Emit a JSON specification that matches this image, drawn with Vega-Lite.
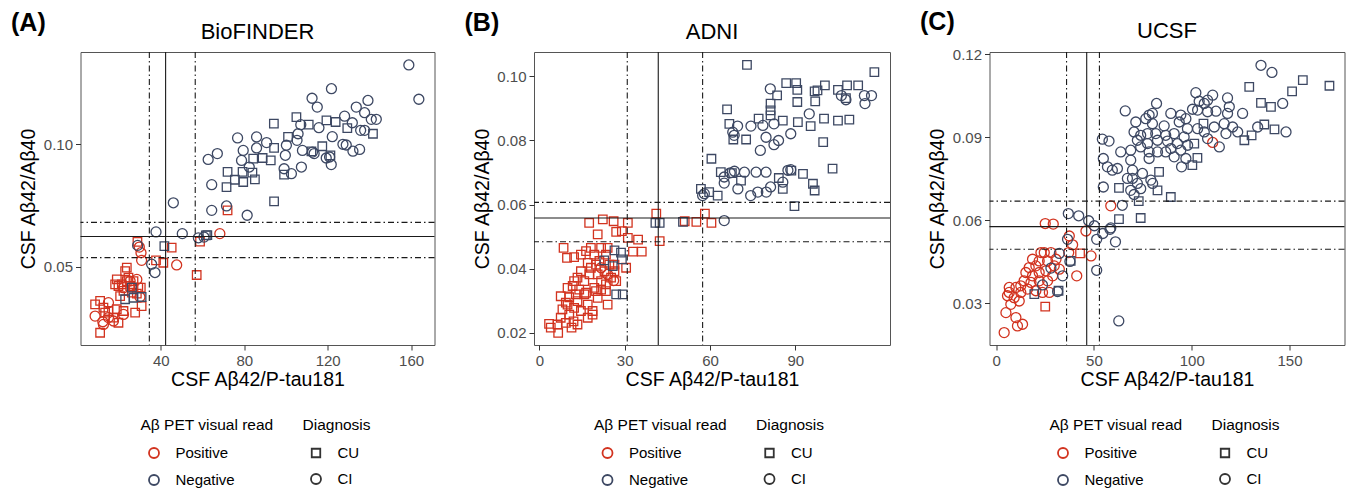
{
"$schema": "https://vega.github.io/schema/vega-lite/v6.json",
"padding": {"left": 10.5, "top": 9, "right": 2, "bottom": 2},
"background": "white",
"config": {
 "font": "Liberation Sans",
 "view": {"stroke": "#555555", "strokeWidth": 1},
 "axis": {"grid": false, "domain": false, "tickColor": "#333333", "tickSize": 5, "tickWidth": 1, "labelFontSize": 15, "labelColor": "#4d4d4d", "labelPadding": 3, "titleFontSize": 19.5, "titleFontWeight": "normal", "titleColor": "#000000"},
 "axisY": {"minExtent": 37, "maxExtent": 37, "titlePadding": 5},
 "axisX": {"titlePadding": 2},
 "title": {"fontSize": 22, "fontWeight": "normal", "offset": 7.3, "color": "#000000"},
 "legend": {"orient": "none", "padding": 0, "titleFontSize": 15.5, "titleFontWeight": "normal", "titleColor": "#000000", "labelFontSize": 15, "labelColor": "#000000", "titlePadding": 12, "rowPadding": 8, "symbolSize": 100, "symbolStrokeWidth": 1.8, "symbolOffset": 6, "labelOffset": 14}
},
"datasets": {
 "bio": [
  {"x":72.0,"y":0.0730,"pet":"Positive","diag":"CU"},{"x":58.8,"y":0.0602,"pet":"Positive","diag":"CU"},{"x":28.8,"y":0.0601,"pet":"Positive","diag":"CU"},{"x":45.2,"y":0.0578,"pet":"Positive","diag":"CU"},{"x":41.2,"y":0.0516,"pet":"Positive","diag":"CU"},{"x":37.7,"y":0.0526,"pet":"Positive","diag":"CU"},{"x":57.2,"y":0.0466,"pet":"Positive","diag":"CU"},{"x":23.7,"y":0.0496,"pet":"Positive","diag":"CU"},{"x":22.9,"y":0.0482,"pet":"Positive","diag":"CU"},{"x":24.5,"y":0.0455,"pet":"Positive","diag":"CU"},{"x":18.9,"y":0.0448,"pet":"Positive","diag":"CU"},{"x":19.7,"y":0.0421,"pet":"Positive","diag":"CU"},{"x":21.3,"y":0.0428,"pet":"Positive","diag":"CU"},{"x":25.3,"y":0.0421,"pet":"Positive","diag":"CU"},{"x":26.9,"y":0.0414,"pet":"Positive","diag":"CU"},{"x":29.2,"y":0.0414,"pet":"Positive","diag":"CU"},{"x":22.1,"y":0.0401,"pet":"Positive","diag":"CU"},{"x":26.1,"y":0.0394,"pet":"Positive","diag":"CU"},{"x":28.5,"y":0.0390,"pet":"Positive","diag":"CU"},{"x":30.4,"y":0.0414,"pet":"Positive","diag":"CU"},{"x":20.5,"y":0.0380,"pet":"Positive","diag":"CU"},{"x":18.1,"y":0.0428,"pet":"Positive","diag":"CU"},{"x":23.7,"y":0.0441,"pet":"Positive","diag":"CU"},{"x":26.9,"y":0.0441,"pet":"Positive","diag":"CU"},{"x":8.5,"y":0.0346,"pet":"Positive","diag":"CU"},{"x":10.9,"y":0.0360,"pet":"Positive","diag":"CU"},{"x":12.5,"y":0.0333,"pet":"Positive","diag":"CU"},{"x":14.9,"y":0.0319,"pet":"Positive","diag":"CU"},{"x":17.3,"y":0.0292,"pet":"Positive","diag":"CU"},{"x":19.7,"y":0.0271,"pet":"Positive","diag":"CU"},{"x":22.1,"y":0.0319,"pet":"Positive","diag":"CU"},{"x":27.7,"y":0.0312,"pet":"Positive","diag":"CU"},{"x":30.8,"y":0.0339,"pet":"Positive","diag":"CU"},{"x":10.9,"y":0.0230,"pet":"Positive","diag":"CU"},{"x":18.9,"y":0.0326,"pet":"Positive","diag":"CU"},{"x":13.3,"y":0.0312,"pet":"Positive","diag":"CU"},
  {"x":68.3,"y":0.0635,"pet":"Positive","diag":"CI"},{"x":29.7,"y":0.0580,"pet":"Positive","diag":"CI"},{"x":30.5,"y":0.0557,"pet":"Positive","diag":"CI"},{"x":30.8,"y":0.0526,"pet":"Positive","diag":"CI"},{"x":47.6,"y":0.0507,"pet":"Positive","diag":"CI"},{"x":30.0,"y":0.0376,"pet":"Positive","diag":"CI"},{"x":25.3,"y":0.0441,"pet":"Positive","diag":"CI"},{"x":28.5,"y":0.0448,"pet":"Positive","diag":"CI"},{"x":22.1,"y":0.0414,"pet":"Positive","diag":"CI"},{"x":8.5,"y":0.0298,"pet":"Positive","diag":"CI"},{"x":14.9,"y":0.0353,"pet":"Positive","diag":"CI"},{"x":12.5,"y":0.0264,"pet":"Positive","diag":"CI"},{"x":17.3,"y":0.0278,"pet":"Positive","diag":"CI"},{"x":22.1,"y":0.0305,"pet":"Positive","diag":"CI"},{"x":12.2,"y":0.0275,"pet":"Positive","diag":"CI"},{"x":14.9,"y":0.0292,"pet":"Positive","diag":"CI"},
  {"x":105.0,"y":0.1111,"pet":"Negative","diag":"CU"},{"x":94.2,"y":0.1084,"pet":"Negative","diag":"CU"},{"x":110.9,"y":0.1080,"pet":"Negative","diag":"CU"},{"x":119.4,"y":0.1098,"pet":"Negative","diag":"CU"},{"x":123.8,"y":0.1091,"pet":"Negative","diag":"CU"},{"x":129.4,"y":0.1066,"pet":"Negative","diag":"CU"},{"x":141.7,"y":0.1043,"pet":"Negative","diag":"CU"},{"x":101.0,"y":0.1030,"pet":"Negative","diag":"CU"},{"x":94.3,"y":0.0985,"pet":"Negative","diag":"CU"},{"x":117.4,"y":0.0992,"pet":"Negative","diag":"CU"},{"x":121.3,"y":0.0955,"pet":"Negative","diag":"CU"},{"x":112.2,"y":0.0971,"pet":"Negative","diag":"CU"},{"x":84.3,"y":0.0941,"pet":"Negative","diag":"CU"},{"x":88.8,"y":0.0944,"pet":"Negative","diag":"CU"},{"x":92.7,"y":0.0934,"pet":"Negative","diag":"CU"},{"x":72.0,"y":0.0887,"pet":"Negative","diag":"CU"},{"x":75.5,"y":0.0855,"pet":"Negative","diag":"CU"},{"x":79.2,"y":0.0887,"pet":"Negative","diag":"CU"},{"x":83.9,"y":0.0884,"pet":"Negative","diag":"CU"},{"x":85.1,"y":0.0857,"pet":"Negative","diag":"CU"},{"x":71.5,"y":0.0825,"pet":"Negative","diag":"CU"},{"x":79.5,"y":0.0846,"pet":"Negative","diag":"CU"},{"x":99.1,"y":0.0876,"pet":"Negative","diag":"CU"},{"x":94.3,"y":0.0767,"pet":"Negative","diag":"CU"},{"x":62.3,"y":0.0629,"pet":"Negative","diag":"CU"},{"x":61.6,"y":0.0628,"pet":"Negative","diag":"CU"},{"x":41.7,"y":0.0584,"pet":"Negative","diag":"CU"},{"x":26.1,"y":0.0414,"pet":"Negative","diag":"CU"},{"x":30.8,"y":0.0376,"pet":"Negative","diag":"CU"},{"x":22.9,"y":0.0367,"pet":"Negative","diag":"CU"},{"x":26.9,"y":0.0373,"pet":"Negative","diag":"CU"},
  {"x":158.9,"y":0.1324,"pet":"Negative","diag":"CI"},{"x":163.7,"y":0.1184,"pet":"Negative","diag":"CI"},{"x":121.8,"y":0.1227,"pet":"Negative","diag":"CI"},{"x":112.5,"y":0.1188,"pet":"Negative","diag":"CI"},{"x":115.0,"y":0.1152,"pet":"Negative","diag":"CI"},{"x":139.3,"y":0.1179,"pet":"Negative","diag":"CI"},{"x":133.7,"y":0.1152,"pet":"Negative","diag":"CI"},{"x":137.7,"y":0.1129,"pet":"Negative","diag":"CI"},{"x":128.1,"y":0.1115,"pet":"Negative","diag":"CI"},{"x":131.8,"y":0.1088,"pet":"Negative","diag":"CI"},{"x":140.9,"y":0.1102,"pet":"Negative","diag":"CI"},{"x":143.3,"y":0.1102,"pet":"Negative","diag":"CI"},{"x":135.8,"y":0.1057,"pet":"Negative","diag":"CI"},{"x":137.7,"y":0.1057,"pet":"Negative","diag":"CI"},{"x":122.2,"y":0.1031,"pet":"Negative","diag":"CI"},{"x":127.3,"y":0.1000,"pet":"Negative","diag":"CI"},{"x":128.9,"y":0.0997,"pet":"Negative","diag":"CI"},{"x":132.1,"y":0.0972,"pet":"Negative","diag":"CI"},{"x":135.3,"y":0.0979,"pet":"Negative","diag":"CI"},{"x":115.8,"y":0.1068,"pet":"Negative","diag":"CI"},{"x":107.1,"y":0.1080,"pet":"Negative","diag":"CI"},{"x":105.8,"y":0.1043,"pet":"Negative","diag":"CI"},{"x":105.3,"y":0.1016,"pet":"Negative","diag":"CI"},{"x":100.2,"y":0.0996,"pet":"Negative","diag":"CI"},{"x":99.7,"y":0.0955,"pet":"Negative","diag":"CI"},{"x":107.9,"y":0.0975,"pet":"Negative","diag":"CI"},{"x":112.7,"y":0.0968,"pet":"Negative","diag":"CI"},{"x":113.5,"y":0.0962,"pet":"Negative","diag":"CI"},{"x":119.3,"y":0.0944,"pet":"Negative","diag":"CI"},{"x":120.9,"y":0.0948,"pet":"Negative","diag":"CI"},{"x":121.7,"y":0.0917,"pet":"Negative","diag":"CI"},{"x":99.1,"y":0.0900,"pet":"Negative","diag":"CI"},{"x":102.6,"y":0.0880,"pet":"Negative","diag":"CI"},{"x":107.4,"y":0.0907,"pet":"Negative","diag":"CI"},{"x":90.7,"y":0.1007,"pet":"Negative","diag":"CI"},{"x":85.9,"y":0.1030,"pet":"Negative","diag":"CI"},{"x":85.9,"y":0.0985,"pet":"Negative","diag":"CI"},{"x":79.5,"y":0.0975,"pet":"Negative","diag":"CI"},{"x":76.8,"y":0.1026,"pet":"Negative","diag":"CI"},{"x":78.7,"y":0.0934,"pet":"Negative","diag":"CI"},{"x":82.4,"y":0.0907,"pet":"Negative","diag":"CI"},{"x":62.7,"y":0.0938,"pet":"Negative","diag":"CI"},{"x":67.1,"y":0.0962,"pet":"Negative","diag":"CI"},{"x":64.4,"y":0.0835,"pet":"Negative","diag":"CI"},{"x":64.4,"y":0.0730,"pet":"Negative","diag":"CI"},{"x":71.5,"y":0.0748,"pet":"Negative","diag":"CI"},{"x":81.4,"y":0.0710,"pet":"Negative","diag":"CI"},{"x":46.0,"y":0.0761,"pet":"Negative","diag":"CI"},{"x":37.7,"y":0.0642,"pet":"Negative","diag":"CI"},{"x":50.3,"y":0.0635,"pet":"Negative","diag":"CI"},{"x":58.0,"y":0.0618,"pet":"Negative","diag":"CI"},{"x":60.7,"y":0.0621,"pet":"Negative","diag":"CI"},{"x":28.9,"y":0.0587,"pet":"Negative","diag":"CI"},{"x":35.6,"y":0.0510,"pet":"Negative","diag":"CI"},{"x":37.2,"y":0.0476,"pet":"Negative","diag":"CI"}
 ],
 "adni": [
  {"x":17.5,"y":0.0543,"pet":"Positive","diag":"CU"},{"x":22.3,"y":0.0554,"pet":"Positive","diag":"CU"},{"x":26.1,"y":0.0548,"pet":"Positive","diag":"CU"},{"x":31.1,"y":0.0543,"pet":"Positive","diag":"CU"},{"x":20.5,"y":0.0507,"pet":"Positive","diag":"CU"},{"x":27.0,"y":0.0515,"pet":"Positive","diag":"CU"},{"x":29.0,"y":0.0517,"pet":"Positive","diag":"CU"},{"x":34.7,"y":0.0491,"pet":"Positive","diag":"CU"},{"x":31.1,"y":0.0496,"pet":"Positive","diag":"CU"},{"x":32.9,"y":0.0453,"pet":"Positive","diag":"CU"},{"x":36.0,"y":0.0453,"pet":"Positive","diag":"CU"},{"x":8.5,"y":0.0465,"pet":"Positive","diag":"CU"},{"x":9.7,"y":0.0434,"pet":"Positive","diag":"CU"},{"x":12.2,"y":0.0436,"pet":"Positive","diag":"CU"},{"x":41.1,"y":0.0572,"pet":"Positive","diag":"CU"},{"x":42.3,"y":0.0486,"pet":"Positive","diag":"CU"},{"x":51.1,"y":0.0548,"pet":"Positive","diag":"CU"},{"x":55.2,"y":0.0546,"pet":"Positive","diag":"CU"},{"x":58.2,"y":0.0572,"pet":"Positive","diag":"CU"},{"x":60.5,"y":0.0543,"pet":"Positive","diag":"CU"},
  {"x":3.4,"y":0.0228,"pet":"Positive","diag":"CU"},{"x":4.0,"y":0.0216,"pet":"Positive","diag":"CU"},{"x":6.4,"y":0.0226,"pet":"Positive","diag":"CU"},{"x":6.6,"y":0.0200,"pet":"Positive","diag":"CU"},{"x":7.5,"y":0.0247,"pet":"Positive","diag":"CU"},{"x":9.3,"y":0.0231,"pet":"Positive","diag":"CU"},{"x":10.5,"y":0.0257,"pet":"Positive","diag":"CU"},{"x":11.3,"y":0.0216,"pet":"Positive","diag":"CU"},{"x":12.0,"y":0.0236,"pet":"Positive","diag":"CU"},{"x":8.1,"y":0.0273,"pet":"Positive","diag":"CU"},{"x":9.9,"y":0.0288,"pet":"Positive","diag":"CU"},{"x":12.2,"y":0.0278,"pet":"Positive","diag":"CU"},{"x":14.6,"y":0.0268,"pet":"Positive","diag":"CU"},{"x":13.4,"y":0.0299,"pet":"Positive","diag":"CU"},{"x":7.5,"y":0.0314,"pet":"Positive","diag":"CU"},{"x":10.5,"y":0.0311,"pet":"Positive","diag":"CU"},{"x":11.7,"y":0.0346,"pet":"Positive","diag":"CU"},{"x":14.0,"y":0.0335,"pet":"Positive","diag":"CU"},{"x":15.8,"y":0.0320,"pet":"Positive","diag":"CU"},{"x":17.0,"y":0.0288,"pet":"Positive","diag":"CU"},{"x":18.7,"y":0.0268,"pet":"Positive","diag":"CU"},{"x":20.5,"y":0.0309,"pet":"Positive","diag":"CU"},{"x":24.0,"y":0.0288,"pet":"Positive","diag":"CU"},{"x":19.3,"y":0.0340,"pet":"Positive","diag":"CU"},{"x":21.7,"y":0.0335,"pet":"Positive","diag":"CU"},{"x":23.4,"y":0.0351,"pet":"Positive","diag":"CU"},{"x":15.8,"y":0.0361,"pet":"Positive","diag":"CU"},{"x":17.6,"y":0.0382,"pet":"Positive","diag":"CU"},{"x":20.5,"y":0.0382,"pet":"Positive","diag":"CU"},{"x":22.9,"y":0.0392,"pet":"Positive","diag":"CU"},{"x":25.2,"y":0.0372,"pet":"Positive","diag":"CU"},{"x":19.9,"y":0.0413,"pet":"Positive","diag":"CU"},{"x":17.0,"y":0.0418,"pet":"Positive","diag":"CU"},{"x":19.3,"y":0.0444,"pet":"Positive","diag":"CU"},{"x":16.4,"y":0.0455,"pet":"Positive","diag":"CU"},{"x":18.1,"y":0.0465,"pet":"Positive","diag":"CU"},{"x":21.7,"y":0.0465,"pet":"Positive","diag":"CU"},{"x":23.4,"y":0.0444,"pet":"Positive","diag":"CU"},{"x":21.1,"y":0.0424,"pet":"Positive","diag":"CU"},{"x":24.6,"y":0.0413,"pet":"Positive","diag":"CU"},{"x":26.4,"y":0.0392,"pet":"Positive","diag":"CU"},{"x":27.0,"y":0.0361,"pet":"Positive","diag":"CU"},{"x":13.4,"y":0.0372,"pet":"Positive","diag":"CU"},{"x":14.6,"y":0.0392,"pet":"Positive","diag":"CU"},{"x":12.2,"y":0.0361,"pet":"Positive","diag":"CU"},{"x":9.9,"y":0.0340,"pet":"Positive","diag":"CU"},{"x":18.1,"y":0.0403,"pet":"Positive","diag":"CU"},{"x":21.7,"y":0.0361,"pet":"Positive","diag":"CU"},{"x":23.4,"y":0.0330,"pet":"Positive","diag":"CU"},{"x":26.4,"y":0.0413,"pet":"Positive","diag":"CU"},{"x":30.5,"y":0.0403,"pet":"Positive","diag":"CU"},{"x":13.4,"y":0.0226,"pet":"Positive","diag":"CU"},{"x":18.7,"y":0.0257,"pet":"Positive","diag":"CU"},{"x":17.0,"y":0.0247,"pet":"Positive","diag":"CU"},{"x":19.9,"y":0.0330,"pet":"Positive","diag":"CU"},{"x":16.4,"y":0.0325,"pet":"Positive","diag":"CU"},{"x":12.8,"y":0.0320,"pet":"Positive","diag":"CU"},{"x":9.3,"y":0.0294,"pet":"Positive","diag":"CU"},{"x":14.6,"y":0.0444,"pet":"Positive","diag":"CU"},{"x":24.0,"y":0.0465,"pet":"Positive","diag":"CU"},
  {"x":26.1,"y":0.0363,"pet":"Positive","diag":"CI"},{"x":24.0,"y":0.0382,"pet":"Positive","diag":"CI"},{"x":21.7,"y":0.0403,"pet":"Positive","diag":"CI"},
  {"x":40.8,"y":0.0543,"pet":"Negative","diag":"CU"},{"x":42.3,"y":0.0543,"pet":"Negative","diag":"CU"},{"x":50.5,"y":0.0546,"pet":"Negative","diag":"CU"},{"x":26.4,"y":0.0457,"pet":"Negative","diag":"CU"},{"x":28.7,"y":0.0450,"pet":"Negative","diag":"CU"},{"x":29.0,"y":0.0429,"pet":"Negative","diag":"CU"},{"x":22.8,"y":0.0426,"pet":"Negative","diag":"CU"},{"x":25.8,"y":0.0408,"pet":"Negative","diag":"CU"},{"x":27.0,"y":0.0320,"pet":"Negative","diag":"CU"},{"x":29.3,"y":0.0320,"pet":"Negative","diag":"CU"},
  {"x":73.0,"y":0.1036,"pet":"Negative","diag":"CU"},{"x":117.8,"y":0.1013,"pet":"Negative","diag":"CU"},{"x":86.8,"y":0.0979,"pet":"Negative","diag":"CU"},{"x":90.3,"y":0.0979,"pet":"Negative","diag":"CU"},{"x":90.7,"y":0.0958,"pet":"Negative","diag":"CU"},{"x":100.4,"y":0.0972,"pet":"Negative","diag":"CU"},{"x":96.8,"y":0.0953,"pet":"Negative","diag":"CU"},{"x":97.8,"y":0.0956,"pet":"Negative","diag":"CU"},{"x":105.0,"y":0.0958,"pet":"Negative","diag":"CU"},{"x":108.2,"y":0.0972,"pet":"Negative","diag":"CU"},{"x":112.1,"y":0.0972,"pet":"Negative","diag":"CU"},{"x":107.8,"y":0.0932,"pet":"Negative","diag":"CU"},{"x":83.6,"y":0.0941,"pet":"Negative","diag":"CU"},{"x":90.7,"y":0.0920,"pet":"Negative","diag":"CU"},{"x":97.0,"y":0.0922,"pet":"Negative","diag":"CU"},{"x":81.3,"y":0.0915,"pet":"Negative","diag":"CU"},{"x":81.3,"y":0.0894,"pet":"Negative","diag":"CU"},{"x":81.3,"y":0.0878,"pet":"Negative","diag":"CU"},{"x":66.0,"y":0.0897,"pet":"Negative","diag":"CU"},{"x":77.1,"y":0.0868,"pet":"Negative","diag":"CU"},{"x":85.6,"y":0.0862,"pet":"Negative","diag":"CU"},{"x":90.9,"y":0.0857,"pet":"Negative","diag":"CU"},{"x":95.4,"y":0.0845,"pet":"Negative","diag":"CU"},{"x":100.1,"y":0.0868,"pet":"Negative","diag":"CU"},{"x":105.0,"y":0.0862,"pet":"Negative","diag":"CU"},{"x":109.0,"y":0.0865,"pet":"Negative","diag":"CU"},{"x":66.8,"y":0.0852,"pet":"Negative","diag":"CU"},{"x":68.2,"y":0.0803,"pet":"Negative","diag":"CU"},{"x":72.7,"y":0.0803,"pet":"Negative","diag":"CU"},{"x":99.8,"y":0.0795,"pet":"Negative","diag":"CU"},{"x":60.5,"y":0.0743,"pet":"Negative","diag":"CU"},{"x":63.8,"y":0.0701,"pet":"Negative","diag":"CU"},{"x":67.7,"y":0.0698,"pet":"Negative","diag":"CU"},{"x":70.9,"y":0.0675,"pet":"Negative","diag":"CU"},{"x":88.6,"y":0.0706,"pet":"Negative","diag":"CU"},{"x":92.7,"y":0.0696,"pet":"Negative","diag":"CU"},{"x":103.1,"y":0.0712,"pet":"Negative","diag":"CU"},{"x":84.2,"y":0.0683,"pet":"Negative","diag":"CU"},{"x":85.6,"y":0.0649,"pet":"Negative","diag":"CU"},{"x":96.2,"y":0.0665,"pet":"Negative","diag":"CU"},{"x":96.8,"y":0.0644,"pet":"Negative","diag":"CU"},{"x":56.8,"y":0.0649,"pet":"Negative","diag":"CU"},{"x":59.7,"y":0.0639,"pet":"Negative","diag":"CU"},{"x":62.7,"y":0.0628,"pet":"Negative","diag":"CU"},{"x":89.7,"y":0.0595,"pet":"Negative","diag":"CU"},
  {"x":65.0,"y":0.0550,"pet":"Negative","diag":"CI"},{"x":81.2,"y":0.0961,"pet":"Negative","diag":"CI"},{"x":94.9,"y":0.0883,"pet":"Negative","diag":"CI"},{"x":106.2,"y":0.0940,"pet":"Negative","diag":"CI"},{"x":107.8,"y":0.0927,"pet":"Negative","diag":"CI"},{"x":114.3,"y":0.0940,"pet":"Negative","diag":"CI"},{"x":116.8,"y":0.0940,"pet":"Negative","diag":"CI"},{"x":114.5,"y":0.0915,"pet":"Negative","diag":"CI"},{"x":69.7,"y":0.0845,"pet":"Negative","diag":"CI"},{"x":68.0,"y":0.0826,"pet":"Negative","diag":"CI"},{"x":68.5,"y":0.0816,"pet":"Negative","diag":"CI"},{"x":74.4,"y":0.0845,"pet":"Negative","diag":"CI"},{"x":78.6,"y":0.0847,"pet":"Negative","diag":"CI"},{"x":82.5,"y":0.0852,"pet":"Negative","diag":"CI"},{"x":79.7,"y":0.0810,"pet":"Negative","diag":"CI"},{"x":84.1,"y":0.0800,"pet":"Negative","diag":"CI"},{"x":82.5,"y":0.0787,"pet":"Negative","diag":"CI"},{"x":88.4,"y":0.0821,"pet":"Negative","diag":"CI"},{"x":77.7,"y":0.0769,"pet":"Negative","diag":"CI"},{"x":65.0,"y":0.0686,"pet":"Negative","diag":"CI"},{"x":67.1,"y":0.0699,"pet":"Negative","diag":"CI"},{"x":68.6,"y":0.0704,"pet":"Negative","diag":"CI"},{"x":72.1,"y":0.0701,"pet":"Negative","diag":"CI"},{"x":76.2,"y":0.0701,"pet":"Negative","diag":"CI"},{"x":79.7,"y":0.0701,"pet":"Negative","diag":"CI"},{"x":65.0,"y":0.0667,"pet":"Negative","diag":"CI"},{"x":69.8,"y":0.0649,"pet":"Negative","diag":"CI"},{"x":74.3,"y":0.0628,"pet":"Negative","diag":"CI"},{"x":76.8,"y":0.0639,"pet":"Negative","diag":"CI"},{"x":79.8,"y":0.0639,"pet":"Negative","diag":"CI"},{"x":81.3,"y":0.0655,"pet":"Negative","diag":"CI"},{"x":85.6,"y":0.0670,"pet":"Negative","diag":"CI"},{"x":87.4,"y":0.0707,"pet":"Negative","diag":"CI"},{"x":88.4,"y":0.0709,"pet":"Negative","diag":"CI"},{"x":57.4,"y":0.0628,"pet":"Negative","diag":"CI"},{"x":58.0,"y":0.0634,"pet":"Negative","diag":"CI"}
 ],
 "ucsf": [
  {"x":42.9,"y":0.0480,"pet":"Positive","diag":"CU"},{"x":25.1,"y":0.0288,"pet":"Positive","diag":"CU"},
  {"x":110.7,"y":0.0881,"pet":"Positive","diag":"CI"},{"x":58.6,"y":0.0652,"pet":"Positive","diag":"CI"},{"x":25.1,"y":0.0588,"pet":"Positive","diag":"CI"},{"x":29.2,"y":0.0586,"pet":"Positive","diag":"CI"},{"x":45.9,"y":0.0561,"pet":"Positive","diag":"CI"},{"x":37.4,"y":0.0543,"pet":"Positive","diag":"CI"},{"x":39.1,"y":0.0511,"pet":"Positive","diag":"CI"},{"x":48.5,"y":0.0471,"pet":"Positive","diag":"CI"},{"x":41.2,"y":0.0399,"pet":"Positive","diag":"CI"},{"x":37.1,"y":0.0483,"pet":"Positive","diag":"CI"},
  {"x":24.6,"y":0.0483,"pet":"Positive","diag":"CI"},{"x":28.0,"y":0.0483,"pet":"Positive","diag":"CI"},{"x":30.6,"y":0.0459,"pet":"Positive","diag":"CI"},{"x":26.3,"y":0.0453,"pet":"Positive","diag":"CI"},{"x":22.0,"y":0.0453,"pet":"Positive","diag":"CI"},{"x":20.3,"y":0.0435,"pet":"Positive","diag":"CI"},{"x":16.9,"y":0.0429,"pet":"Positive","diag":"CI"},{"x":15.2,"y":0.0411,"pet":"Positive","diag":"CI"},{"x":18.6,"y":0.0399,"pet":"Positive","diag":"CI"},{"x":22.0,"y":0.0411,"pet":"Positive","diag":"CI"},{"x":25.4,"y":0.0417,"pet":"Positive","diag":"CI"},{"x":28.9,"y":0.0399,"pet":"Positive","diag":"CI"},{"x":26.3,"y":0.0381,"pet":"Positive","diag":"CI"},{"x":22.0,"y":0.0381,"pet":"Positive","diag":"CI"},{"x":17.8,"y":0.0375,"pet":"Positive","diag":"CI"},{"x":14.3,"y":0.0381,"pet":"Positive","diag":"CI"},{"x":12.6,"y":0.0363,"pet":"Positive","diag":"CI"},{"x":16.1,"y":0.0351,"pet":"Positive","diag":"CI"},{"x":20.3,"y":0.0345,"pet":"Positive","diag":"CI"},{"x":23.7,"y":0.0339,"pet":"Positive","diag":"CI"},{"x":27.2,"y":0.0339,"pet":"Positive","diag":"CI"},{"x":12.6,"y":0.0339,"pet":"Positive","diag":"CI"},{"x":10.1,"y":0.0357,"pet":"Positive","diag":"CI"},{"x":6.7,"y":0.0357,"pet":"Positive","diag":"CI"},{"x":5.8,"y":0.0327,"pet":"Positive","diag":"CI"},{"x":9.2,"y":0.0320,"pet":"Positive","diag":"CI"},{"x":11.8,"y":0.0308,"pet":"Positive","diag":"CI"},{"x":7.5,"y":0.0296,"pet":"Positive","diag":"CI"},{"x":5.0,"y":0.0266,"pet":"Positive","diag":"CI"},{"x":10.1,"y":0.0248,"pet":"Positive","diag":"CI"},{"x":10.9,"y":0.0218,"pet":"Positive","diag":"CI"},{"x":13.5,"y":0.0224,"pet":"Positive","diag":"CI"},{"x":4.1,"y":0.0194,"pet":"Positive","diag":"CI"},{"x":29.7,"y":0.0435,"pet":"Positive","diag":"CI"},{"x":32.3,"y":0.0423,"pet":"Positive","diag":"CI"},{"x":22.9,"y":0.0483,"pet":"Positive","diag":"CI"},{"x":18.6,"y":0.0459,"pet":"Positive","diag":"CI"},{"x":6.7,"y":0.0339,"pet":"Positive","diag":"CI"},
  {"x":19.5,"y":0.0333,"pet":"Negative","diag":"CU"},{"x":31.9,"y":0.0345,"pet":"Negative","diag":"CU"},{"x":38.1,"y":0.0453,"pet":"Negative","diag":"CU"},{"x":129.4,"y":0.1082,"pet":"Negative","diag":"CU"},{"x":156.8,"y":0.1106,"pet":"Negative","diag":"CU"},{"x":170.4,"y":0.1086,"pet":"Negative","diag":"CU"},{"x":151.3,"y":0.1066,"pet":"Negative","diag":"CU"},{"x":135.4,"y":0.1024,"pet":"Negative","diag":"CU"},{"x":140.5,"y":0.1010,"pet":"Negative","diag":"CU"},{"x":137.1,"y":0.0946,"pet":"Negative","diag":"CU"},{"x":142.3,"y":0.0928,"pet":"Negative","diag":"CU"},{"x":130.6,"y":0.0907,"pet":"Negative","diag":"CU"},{"x":126.9,"y":0.0889,"pet":"Negative","diag":"CU"},{"x":106.0,"y":0.0949,"pet":"Negative","diag":"CU"},{"x":101.3,"y":0.0877,"pet":"Negative","diag":"CU"},{"x":102.9,"y":0.0825,"pet":"Negative","diag":"CU"},{"x":100.3,"y":0.0799,"pet":"Negative","diag":"CU"},{"x":83.3,"y":0.0775,"pet":"Negative","diag":"CU"},{"x":62.8,"y":0.0717,"pet":"Negative","diag":"CU"},{"x":82.5,"y":0.0708,"pet":"Negative","diag":"CU"},{"x":72.9,"y":0.0669,"pet":"Negative","diag":"CU"},{"x":89.3,"y":0.0684,"pet":"Negative","diag":"CU"},{"x":62.8,"y":0.0604,"pet":"Negative","diag":"CU"},{"x":73.9,"y":0.0608,"pet":"Negative","diag":"CU"},
  {"x":36.9,"y":0.0624,"pet":"Negative","diag":"CI"},{"x":42.2,"y":0.0616,"pet":"Negative","diag":"CI"},{"x":47.3,"y":0.0598,"pet":"Negative","diag":"CI"},{"x":50.2,"y":0.0580,"pet":"Negative","diag":"CI"},{"x":54.5,"y":0.0552,"pet":"Negative","diag":"CI"},{"x":58.2,"y":0.0567,"pet":"Negative","diag":"CI"},{"x":61.0,"y":0.0522,"pet":"Negative","diag":"CI"},{"x":51.4,"y":0.0531,"pet":"Negative","diag":"CI"},{"x":36.5,"y":0.0531,"pet":"Negative","diag":"CI"},{"x":51.4,"y":0.0419,"pet":"Negative","diag":"CI"},{"x":62.7,"y":0.0236,"pet":"Negative","diag":"CI"},{"x":32.3,"y":0.0480,"pet":"Negative","diag":"CI"},{"x":37.7,"y":0.0451,"pet":"Negative","diag":"CI"},{"x":34.0,"y":0.0399,"pet":"Negative","diag":"CI"},{"x":31.4,"y":0.0342,"pet":"Negative","diag":"CI"},{"x":23.7,"y":0.0366,"pet":"Negative","diag":"CI"},{"x":28.0,"y":0.0427,"pet":"Negative","diag":"CI"},{"x":64.5,"y":0.0654,"pet":"Negative","diag":"CI"},
  {"x":135.4,"y":0.1160,"pet":"Negative","diag":"CI"},{"x":141.0,"y":0.1134,"pet":"Negative","diag":"CI"},{"x":146.5,"y":0.1022,"pet":"Negative","diag":"CI"},{"x":148.2,"y":0.0919,"pet":"Negative","diag":"CI"},{"x":82.0,"y":0.1022,"pet":"Negative","diag":"CI"},{"x":66.0,"y":0.0995,"pet":"Negative","diag":"CI"},{"x":102.1,"y":0.1061,"pet":"Negative","diag":"CI"},{"x":110.7,"y":0.1052,"pet":"Negative","diag":"CI"},{"x":118.3,"y":0.1042,"pet":"Negative","diag":"CI"},{"x":103.8,"y":0.1030,"pet":"Negative","diag":"CI"},{"x":106.4,"y":0.1022,"pet":"Negative","diag":"CI"},{"x":108.1,"y":0.1034,"pet":"Negative","diag":"CI"},{"x":100.4,"y":0.1001,"pet":"Negative","diag":"CI"},{"x":103.0,"y":0.0998,"pet":"Negative","diag":"CI"},{"x":108.1,"y":0.0992,"pet":"Negative","diag":"CI"},{"x":112.4,"y":0.0994,"pet":"Negative","diag":"CI"},{"x":119.2,"y":0.1010,"pet":"Negative","diag":"CI"},{"x":118.3,"y":0.0986,"pet":"Negative","diag":"CI"},{"x":126.0,"y":0.0986,"pet":"Negative","diag":"CI"},{"x":78.2,"y":0.0980,"pet":"Negative","diag":"CI"},{"x":79.9,"y":0.0986,"pet":"Negative","diag":"CI"},{"x":76.5,"y":0.0967,"pet":"Negative","diag":"CI"},{"x":71.4,"y":0.0955,"pet":"Negative","diag":"CI"},{"x":79.9,"y":0.0949,"pet":"Negative","diag":"CI"},{"x":85.9,"y":0.0941,"pet":"Negative","diag":"CI"},{"x":89.3,"y":0.0986,"pet":"Negative","diag":"CI"},{"x":94.4,"y":0.0980,"pet":"Negative","diag":"CI"},{"x":97.0,"y":0.0967,"pet":"Negative","diag":"CI"},{"x":93.6,"y":0.0955,"pet":"Negative","diag":"CI"},{"x":97.8,"y":0.0931,"pet":"Negative","diag":"CI"},{"x":103.0,"y":0.0931,"pet":"Negative","diag":"CI"},{"x":106.4,"y":0.0919,"pet":"Negative","diag":"CI"},{"x":111.5,"y":0.0937,"pet":"Negative","diag":"CI"},{"x":116.6,"y":0.0949,"pet":"Negative","diag":"CI"},{"x":120.9,"y":0.0937,"pet":"Negative","diag":"CI"},{"x":123.5,"y":0.0919,"pet":"Negative","diag":"CI"},{"x":133.7,"y":0.0937,"pet":"Negative","diag":"CI"},{"x":117.5,"y":0.0913,"pet":"Negative","diag":"CI"},{"x":96.1,"y":0.0901,"pet":"Negative","diag":"CI"},{"x":91.0,"y":0.0913,"pet":"Negative","diag":"CI"},{"x":86.7,"y":0.0907,"pet":"Negative","diag":"CI"},{"x":81.6,"y":0.0913,"pet":"Negative","diag":"CI"},{"x":77.4,"y":0.0913,"pet":"Negative","diag":"CI"},{"x":73.9,"y":0.0907,"pet":"Negative","diag":"CI"},{"x":70.5,"y":0.0919,"pet":"Negative","diag":"CI"},{"x":72.2,"y":0.0889,"pet":"Negative","diag":"CI"},{"x":77.4,"y":0.0877,"pet":"Negative","diag":"CI"},{"x":82.5,"y":0.0889,"pet":"Negative","diag":"CI"},{"x":87.6,"y":0.0886,"pet":"Negative","diag":"CI"},{"x":92.7,"y":0.0877,"pet":"Negative","diag":"CI"},{"x":97.9,"y":0.0871,"pet":"Negative","diag":"CI"},{"x":89.3,"y":0.0859,"pet":"Negative","diag":"CI"},{"x":94.4,"y":0.0853,"pet":"Negative","diag":"CI"},{"x":86.7,"y":0.0847,"pet":"Negative","diag":"CI"},{"x":91.0,"y":0.0829,"pet":"Negative","diag":"CI"},{"x":97.0,"y":0.0823,"pet":"Negative","diag":"CI"},{"x":94.8,"y":0.0793,"pet":"Negative","diag":"CI"},{"x":82.5,"y":0.0847,"pet":"Negative","diag":"CI"},{"x":78.2,"y":0.0847,"pet":"Negative","diag":"CI"},{"x":73.9,"y":0.0865,"pet":"Negative","diag":"CI"},{"x":68.8,"y":0.0853,"pet":"Negative","diag":"CI"},{"x":63.7,"y":0.0847,"pet":"Negative","diag":"CI"},{"x":54.3,"y":0.0893,"pet":"Negative","diag":"CI"},{"x":57.7,"y":0.0886,"pet":"Negative","diag":"CI"},{"x":54.8,"y":0.0823,"pet":"Negative","diag":"CI"},{"x":56.9,"y":0.0793,"pet":"Negative","diag":"CI"},{"x":59.4,"y":0.0781,"pet":"Negative","diag":"CI"},{"x":62.0,"y":0.0787,"pet":"Negative","diag":"CI"},{"x":68.8,"y":0.0817,"pet":"Negative","diag":"CI"},{"x":69.7,"y":0.0781,"pet":"Negative","diag":"CI"},{"x":78.2,"y":0.0823,"pet":"Negative","diag":"CI"},{"x":74.8,"y":0.0769,"pet":"Negative","diag":"CI"},{"x":67.1,"y":0.0751,"pet":"Negative","diag":"CI"},{"x":69.7,"y":0.0751,"pet":"Negative","diag":"CI"},{"x":72.2,"y":0.0733,"pet":"Negative","diag":"CI"},{"x":79.1,"y":0.0745,"pet":"Negative","diag":"CI"},{"x":80.0,"y":0.0733,"pet":"Negative","diag":"CI"},{"x":73.9,"y":0.0714,"pet":"Negative","diag":"CI"},{"x":68.8,"y":0.0708,"pet":"Negative","diag":"CI"},{"x":70.5,"y":0.0693,"pet":"Negative","diag":"CI"},{"x":54.8,"y":0.0720,"pet":"Negative","diag":"CI"},{"x":58.6,"y":0.0572,"pet":"Negative","diag":"CI"},{"x":114.1,"y":0.0865,"pet":"Negative","diag":"CI"},{"x":108.1,"y":0.0895,"pet":"Negative","diag":"CI"}
 ]
},
"spacing": 27.5,
"resolve": {"legend": {"color": "independent", "shape": "independent"}, "scale": {"color": "independent", "shape": "independent"}},
"hconcat": [
 {
  "title": {"text": "(A)", "anchor": "start", "frame": "bounds", "fontSize": 25, "fontWeight": "bold", "offset": -15, "dx": -7},
  "resolve": {"legend": {"color": "independent", "shape": "independent"}},
  "vconcat": [{
   "title": "BioFINDER",
   "width": 354, "height": 293,
   "layer": [
    {"data": {"name": "bio"}, "mark": {"type": "point", "filled": false, "size": 100, "strokeWidth": 1.3, "opacity": 1},
     "encoding": {
      "x": {"field": "x", "type": "quantitative", "scale": {"domain": [1.5, 171.2], "nice": false, "zero": false}, "axis": {"values": [40, 80, 120, 160], "title": "CSF Aβ42/P-tau181"}},
      "y": {"field": "y", "type": "quantitative", "scale": {"domain": [0.018, 0.1377], "nice": false, "zero": false}, "axis": {"values": [0.05, 0.10], "format": ".2f", "title": "CSF Aβ42/Aβ40"}},
      "color": {"field": "pet", "type": "nominal", "scale": {"domain": ["Positive", "Negative"], "range": ["#D2331F", "#3D4863"]}, "legend": {"title": "Aβ PET visual read", "legendX": 60, "legendY": 366}},
      "shape": {"field": "diag", "type": "nominal", "scale": {"domain": ["CU", "CI"], "range": ["M-0.85,-0.85H0.85V0.85H-0.85Z", "circle"]}, "legend": {"title": "Diagnosis", "legendX": 222, "legendY": 366, "symbolStrokeColor": "#333333"}}
     }},
    {"data": {"values": [{"x": 42.3, "lt": "solid"}, {"x": 34.5, "lt": "dashdot"}, {"x": 56.5, "lt": "dashdot"}]},
     "mark": {"type": "rule", "color": "#1a1a1a", "strokeWidth": 1.1},
     "encoding": {"x": {"field": "x", "type": "quantitative", "title": "CSF Aβ42/P-tau181"}, "strokeDash": {"field": "lt", "type": "nominal", "scale": {"domain": ["solid", "dashdot"], "range": [[1, 0], [6, 3, 1.5, 3]]}, "legend": null}}},
    {"data": {"values": [{"y": 0.0623, "lt": "solid"}, {"y": 0.0681, "lt": "dashdot"}, {"y": 0.0537, "lt": "dashdot"}]},
     "mark": {"type": "rule", "color": "#1a1a1a", "strokeWidth": 1.1},
     "encoding": {"y": {"field": "y", "type": "quantitative", "title": "CSF Aβ42/Aβ40"}, "strokeDash": {"field": "lt", "type": "nominal", "scale": {"domain": ["solid", "dashdot"], "range": [[1, 0], [6, 3, 1.5, 3]]}, "legend": null}}}
   ]
  }]
 },
 {
  "title": {"text": "(B)", "anchor": "start", "frame": "bounds", "fontSize": 25, "fontWeight": "bold", "offset": -15, "dx": -7},
  "resolve": {"legend": {"color": "independent", "shape": "independent"}},
  "vconcat": [{
   "title": "ADNI",
   "width": 356, "height": 293,
   "layer": [
    {"data": {"name": "adni"}, "mark": {"type": "point", "filled": false, "size": 100, "strokeWidth": 1.3, "opacity": 1},
     "encoding": {
      "x": {"field": "x", "type": "quantitative", "scale": {"domain": [-1.9, 123.3], "nice": false, "zero": false}, "axis": {"values": [0, 30, 60, 90], "title": "CSF Aβ42/P-tau181"}},
      "y": {"field": "y", "type": "quantitative", "scale": {"domain": [0.0162, 0.1076], "nice": false, "zero": false}, "axis": {"values": [0.02, 0.04, 0.06, 0.08, 0.10], "format": ".2f", "title": "CSF Aβ42/Aβ40"}},
      "color": {"field": "pet", "type": "nominal", "scale": {"domain": ["Positive", "Negative"], "range": ["#D2331F", "#3D4863"]}, "legend": {"title": "Aβ PET visual read", "legendX": 60, "legendY": 366}},
      "shape": {"field": "diag", "type": "nominal", "scale": {"domain": ["CU", "CI"], "range": ["M-0.85,-0.85H0.85V0.85H-0.85Z", "circle"]}, "legend": {"title": "Diagnosis", "legendX": 222, "legendY": 366, "symbolStrokeColor": "#333333"}}
     }},
    {"data": {"values": [{"x": 41.8, "lt": "solid"}, {"x": 30.9, "lt": "dashdot"}, {"x": 57.4, "lt": "dashdot"}]},
     "mark": {"type": "rule", "color": "#1a1a1a", "strokeWidth": 1.1},
     "encoding": {"x": {"field": "x", "type": "quantitative", "title": "CSF Aβ42/P-tau181"}, "strokeDash": {"field": "lt", "type": "nominal", "scale": {"domain": ["solid", "dashdot"], "range": [[1, 0], [6, 3, 1.5, 3]]}, "legend": null}}},
    {"data": {"values": [{"y": 0.0558, "lt": "solid"}, {"y": 0.0607, "lt": "dashdot"}, {"y": 0.0484, "lt": "dashdot"}]},
     "mark": {"type": "rule", "color": "#1a1a1a", "strokeWidth": 1.1},
     "encoding": {"y": {"field": "y", "type": "quantitative", "title": "CSF Aβ42/Aβ40"}, "strokeDash": {"field": "lt", "type": "nominal", "scale": {"domain": ["solid", "dashdot"], "range": [[1, 0], [6, 3, 1.5, 3]]}, "legend": null}}}
   ]
  }]
 },
 {
  "title": {"text": "(C)", "anchor": "start", "frame": "bounds", "fontSize": 25, "fontWeight": "bold", "offset": -15, "dx": -7},
  "resolve": {"legend": {"color": "independent", "shape": "independent"}},
  "vconcat": [{
   "title": {"text": "UCSF", "offset": 4},
   "width": 355, "height": 293,
   "layer": [
    {"data": {"name": "ucsf"}, "mark": {"type": "point", "filled": false, "size": 100, "strokeWidth": 1.3, "opacity": 1},
     "encoding": {
      "x": {"field": "x", "type": "quantitative", "scale": {"domain": [-3.4, 178.1], "nice": false, "zero": false}, "axis": {"values": [0, 50, 100, 150], "title": "CSF Aβ42/P-tau181"}},
      "y": {"field": "y", "type": "quantitative", "scale": {"domain": [0.0149, 0.1208], "nice": false, "zero": false}, "axis": {"values": [0.03, 0.06, 0.09, 0.12], "format": ".2f", "title": "CSF Aβ42/Aβ40"}},
      "color": {"field": "pet", "type": "nominal", "scale": {"domain": ["Positive", "Negative"], "range": ["#D2331F", "#3D4863"]}, "legend": {"title": "Aβ PET visual read", "legendX": 60, "legendY": 366}},
      "shape": {"field": "diag", "type": "nominal", "scale": {"domain": ["CU", "CI"], "range": ["M-0.85,-0.85H0.85V0.85H-0.85Z", "circle"]}, "legend": {"title": "Diagnosis", "legendX": 222, "legendY": 366, "symbolStrokeColor": "#333333"}}
     }},
    {"data": {"values": [{"x": 46.3, "lt": "solid"}, {"x": 36.0, "lt": "dashdot"}, {"x": 52.8, "lt": "dashdot"}]},
     "mark": {"type": "rule", "color": "#1a1a1a", "strokeWidth": 1.1},
     "encoding": {"x": {"field": "x", "type": "quantitative", "title": "CSF Aβ42/P-tau181"}, "strokeDash": {"field": "lt", "type": "nominal", "scale": {"domain": ["solid", "dashdot"], "range": [[1, 0], [6, 3, 1.5, 3]]}, "legend": null}}},
    {"data": {"values": [{"y": 0.0577, "lt": "solid"}, {"y": 0.0669, "lt": "dashdot"}, {"y": 0.0495, "lt": "dashdot"}]},
     "mark": {"type": "rule", "color": "#1a1a1a", "strokeWidth": 1.1},
     "encoding": {"y": {"field": "y", "type": "quantitative", "title": "CSF Aβ42/Aβ40"}, "strokeDash": {"field": "lt", "type": "nominal", "scale": {"domain": ["solid", "dashdot"], "range": [[1, 0], [6, 3, 1.5, 3]]}, "legend": null}}}
   ]
  }]
 }
]
}
